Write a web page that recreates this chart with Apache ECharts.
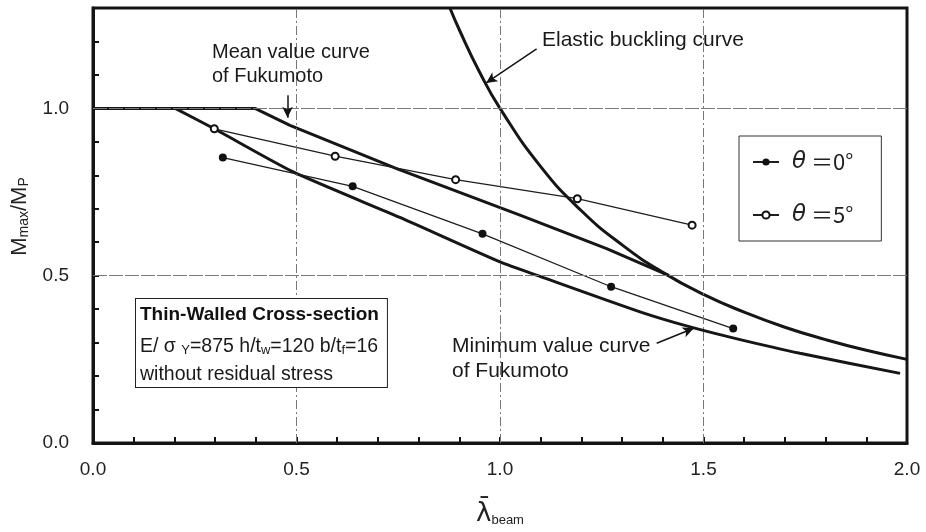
<!DOCTYPE html>
<html>
<head>
<meta charset="utf-8">
<script src="https://cdn.jsdelivr.net/npm/echarts@6/dist/echarts.min.js"></script>
<style>
  html, body { margin: 0; padding: 0; background: #fff; }
  #chart { width: 926px; height: 532px; }
</style>
</head>
<body>
<div id="chart"></div>
<script>
// values
const theta0X = [0.319, 0.638, 0.957, 1.273, 1.573]
const theta0Y = [0.853, 0.767, 0.625, 0.467, 0.342]
const theta5X = [0.298, 0.595, 0.891, 1.190, 1.472]
const theta5Y = [0.939, 0.857, 0.787, 0.730, 0.651]

const meanX = [0.0, 0.398, 0.484, 0.746, 1.049, 1.262, 1.414]
const meanY = [1.0, 1.0, 0.949, 0.820, 0.681, 0.581, 0.501]

const minX = [0.202, 0.298, 0.492, 0.754, 1.0, 1.098, 1.344, 1.467, 1.590, 1.737, 1.983]
const minY = [1.0, 0.939, 0.810, 0.674, 0.541, 0.498, 0.392, 0.347, 0.309, 0.268, 0.208]

const elasticX = [0.877, 0.9, 0.95, 1.0, 1.1, 1.2, 1.3, 1.4, 1.5, 1.6, 1.7, 1.8, 1.9, 2.0]
const elasticY = [1.30, 1.235, 1.108, 1.0, 0.826, 0.694, 0.592, 0.510, 0.444, 0.391, 0.346, 0.309, 0.277, 0.25]

const gridX = [0.5, 1.0, 1.5]
const gridY = [0.5, 1.0]
const seriesNames = ['θ ＝0°', 'θ ＝5°']

const zip = (xs, ys) => xs.map((x, i) => [x, ys[i]])
const isHalf = (v) => Math.abs(v * 2 - Math.round(v * 2)) < 1e-6

const font = "'Liberation Sans', Arial, sans-serif"
const curveStyle = { width: 3, color: '#161616' }
const thinStyle = { width: 1.3, color: '#1e1e1e' }

const chart = echarts.init(document.getElementById('chart'))

chart.setOption({
  backgroundColor: '#fff',
  animation: false,
  grid: {
    left: 93, right: 19, top: 8, bottom: 89,
    show: true, borderColor: '#141414', borderWidth: 3
  },
  xAxis: {
    type: 'value', min: 0, max: 2, interval: 0.1,
    name: '{l|λ̄}{s|beam}',
    nameLocation: 'middle', nameGap: 54,
    nameTextStyle: {
      rich: {
        l: { fontSize: 26, fontFamily: "'DejaVu Sans'", color: '#222', verticalAlign: 'bottom', lineHeight: 30 },
        s: { fontSize: 13, fontFamily: font, color: '#222', verticalAlign: 'bottom', lineHeight: 12 }
      }
    },
    axisLine: { lineStyle: { color: '#141414', width: 3 } },
    axisTick: { inside: true, length: 6, lineStyle: { color: '#141414', width: 2 } },
    axisLabel: {
      margin: 17, fontSize: 19, color: '#222', fontFamily: font,
      formatter: (v) => (isHalf(v) ? v.toFixed(1) : '')
    },
    splitLine: { show: false }
  },
  yAxis: {
    type: 'value', min: 0, max: 1.3, interval: 0.1,
    name: '{m|M}{s|max}{m|/M}{s|P}',
    nameLocation: 'middle', nameGap: 62, nameRotate: 90,
    nameTextStyle: {
      padding: [0, 0, 0, 18],
      rich: {
        m: { fontSize: 22, fontFamily: font, color: '#222', verticalAlign: 'bottom', lineHeight: 26 },
        s: { fontSize: 14, fontFamily: font, color: '#222', verticalAlign: 'bottom', lineHeight: 12 }
      }
    },
    axisLine: { lineStyle: { color: '#141414', width: 3 } },
    axisTick: { inside: true, length: 6, lineStyle: { color: '#141414', width: 2 } },
    axisLabel: {
      margin: 24, fontSize: 19, color: '#222', fontFamily: font,
      formatter: (v) => (isHalf(v) && v <= 1.0 ? v.toFixed(1) : '')
    },
    splitLine: { show: false }
  },
  legend: {
    orient: 'vertical',
    left: 739, top: 136,
    data: seriesNames,
    itemWidth: 26, itemHeight: 9, itemGap: 27,
    padding: [13, 28, 13, 13],
    borderColor: '#333', borderWidth: 1,
    backgroundColor: '#fff',
    formatter: (n) => '{t|' + n.slice(0, 1) + '}{n|' + n.slice(1) + '}',
    textStyle: {
      lineHeight: 26,
      padding: [0, 0, 0, 8],
      rich: {
        t: { fontSize: 23, fontStyle: 'italic', fontFamily: "'DejaVu Sans'", color: '#222' },
        n: { fontSize: 22, fontFamily: "'Noto Sans CJK JP', 'Liberation Sans'", color: '#222' }
      }
    }
  },
  series: [
    {
      name: 'mean', type: 'line', data: zip(meanX, meanY),
      showSymbol: false, lineStyle: curveStyle, silent: true, z: 3,
      markLine: {
        silent: true, symbol: 'none', label: { show: false },
        data: [
          ...gridX.map((x) => ({ xAxis: x, lineStyle: { color: '#777', width: 1, type: [9, 3, 2, 3] } })),
          ...gridY.map((y) => ({ yAxis: y, lineStyle: { color: '#777', width: 1, type: [14, 2] } }))
        ]
      }
    },
    {
      name: 'min', type: 'line', data: zip(minX, minY),
      showSymbol: false, smooth: 0.2, lineStyle: curveStyle, silent: true, z: 3
    },
    {
      name: 'elastic', type: 'line', data: zip(elasticX, elasticY),
      showSymbol: false, smooth: true, lineStyle: curveStyle, silent: true, z: 3,
      markLine: {
        silent: true, symbol: ['none', 'arrow'], symbolSize: [8, 11],
        label: { show: false },
        lineStyle: { color: '#141414', width: 1.5, type: 'solid' },
        data: [
          [{ coord: [0.478, 1.039] }, { coord: [0.478, 0.972] }],
          [{ coord: [1.090, 1.178] }, { coord: [0.966, 1.076] }],
          [{ coord: [1.385, 0.298] }, { coord: [1.476, 0.343] }]
        ]
      }
    },
    {
      name: seriesNames[0], type: 'line', data: zip(theta0X, theta0Y),
      symbol: 'circle', symbolSize: 8,
      itemStyle: { color: '#111' }, lineStyle: thinStyle, z: 4
    },
    {
      name: seriesNames[1], type: 'line', data: zip(theta5X, theta5Y),
      symbol: 'emptyCircle', symbolSize: 7,
      itemStyle: { color: '#111', borderWidth: 1.5 }, lineStyle: thinStyle, z: 4
    }
  ],
  graphic: [
    {
      type: 'text', left: 212, top: 40, z: 10,
      style: { text: 'Mean value curve\nof Fukumoto', font: '20px ' + font, fill: '#1a1a1a', lineHeight: 24 }
    },
    {
      type: 'text', left: 542, top: 28, z: 10,
      style: { text: 'Elastic buckling curve', font: '21px ' + font, fill: '#1a1a1a', lineHeight: 24 }
    },
    {
      type: 'text', left: 452, top: 334, z: 10,
      style: { text: 'Minimum value curve\nof Fukumoto', font: '21px ' + font, fill: '#1a1a1a', lineHeight: 25 }
    },
    {
      type: 'text', left: 135, top: 298, z: 10,
      style: {
        text: '{b|Thin-Walled Cross-section}\n{n|E/ σ }{s|Y}{n|=875 h/t}{s|w}{n|=120 b/t}{s|f}{n|=16}\n{n|without residual stress}',
        backgroundColor: '#fff', borderColor: '#222', borderWidth: 1,
        padding: [2, 8, 2, 4],
        rich: {
          b: { font: 'bold 19px ' + font, fill: '#111', lineHeight: 28 },
          n: { font: '19.5px ' + font, fill: '#1a1a1a', lineHeight: 28, verticalAlign: 'bottom' },
          s: { font: '13px ' + font, fill: '#1a1a1a', lineHeight: 14, verticalAlign: 'bottom' }
        }
      }
    }
  ]
})
</script>
</body>
</html>
